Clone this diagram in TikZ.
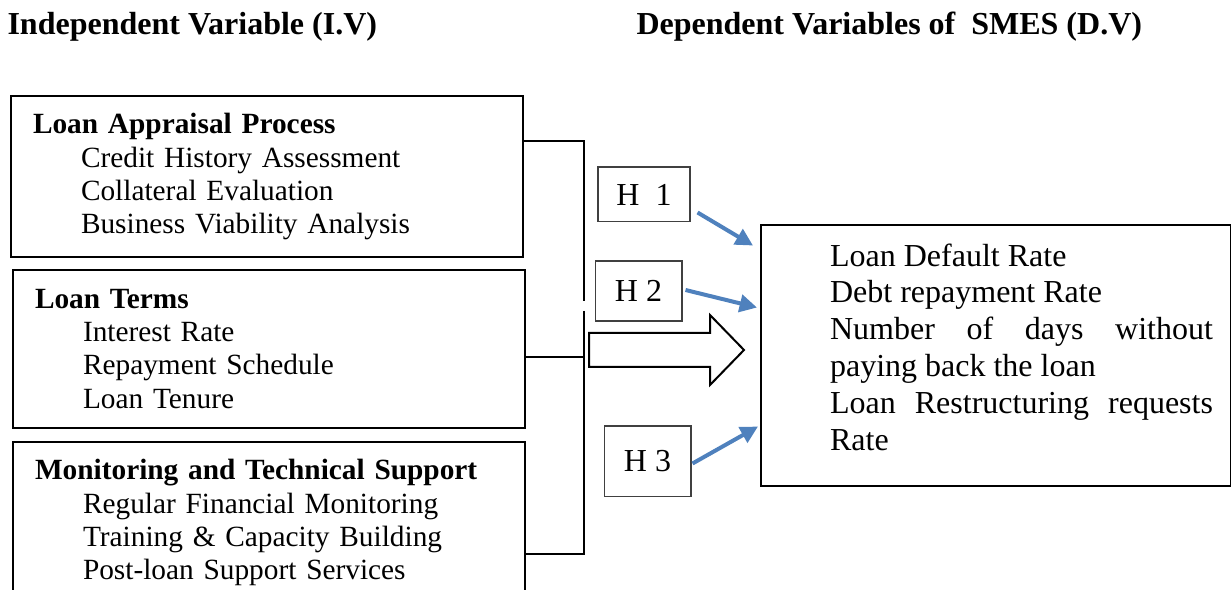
\documentclass[tikz,border=0pt]{standalone}
\usepackage{fontspec}
\setmainfont{Liberation Serif}
\usetikzlibrary{arrows.meta,positioning}
\definecolor{hblue}{RGB}{79,129,189}
\newcommand{\indline}{\hspace*{18pt}}

\begin{document}
\begin{tikzpicture}[
    x=0.375pt, y=-0.375pt,
    >=Latex,
    heading/.style={
      anchor=base west,
      inner sep=0pt,
      font=\fontsize{12}{13.8}\selectfont\bfseries
    },
    ivbox/.style={
      draw=black,
      line width=0.75pt,
      anchor=north west,
      align=left,
      text width=175.5pt,
      inner xsep=8.25pt,
      inner ysep=0pt,
      minimum height=60.4pt,
      font=\fontsize{11}{12.4}\selectfont
    },
    hypbox/.style={
      draw=black!75,
      line width=0.4pt,
      inner sep=0pt,
      font=\fontsize{12}{13.8}\selectfont
    },
    dvbox/.style={
      draw=black,
      line width=0.75pt,
      anchor=north west,
      inner sep=0pt,
      font=\fontsize{12}{13.8}\selectfont
    },
    link/.style={line width=0.75pt},
    hyp/.style={-{Triangle[length=6.5pt,width=6.5pt]}, line width=1.5pt, draw=hblue},
    bigarrow/.style={draw=black, line width=0.75pt, fill=white}
  ]
    \useasboundingbox (0,0) rectangle (1231,590);

    \node[heading] (ivtitle) at (7,35) {Independent Variable (I.V)};
    \node[heading] (dvtitle) at (636,35) {Dependent Variables of\ \ SMES (D.V)};

    \node[ivbox] (appraisal) at (10,95) {\textbf{Loan Appraisal Process}\\
      \indline Credit History Assessment\\
      \indline Collateral Evaluation\\
      \indline Business Viability Analysis};
    \node[ivbox, minimum height=59.25pt] (terms) at (12,269) {\textbf{Loan Terms}\\
      \indline Interest Rate\\
      \indline Repayment Schedule\\
      \indline Loan Tenure};
    \node[ivbox] (support) at (12,441) {\textbf{Monitoring and Technical Support}\\
      \indline Regular Financial Monitoring\\
      \indline Training \& Capacity Building\\
      \indline Post-loan Support Services};

    \node[hypbox, minimum width=34.5pt, minimum height=20.6pt] (h1) at (644,194.5) {H\ \ 1};
    \node[hypbox, minimum width=32.6pt, minimum height=22.5pt] (h2) at (638.5,291) {H 2};
    \node[hypbox, minimum width=32.6pt, minimum height=26.6pt] (h3) at (647.5,461.5) {H 3};

    \node[dvbox] (dv) at (760,224) {\hspace*{25.9pt}\parbox[c][97.9pt][t]{143.6pt}{%
      \vspace*{7pt}%
      Loan Default Rate\\
      Debt repayment Rate\\
      Number of days without\linebreak paying back the loan\\
      Loan Restructuring requests\linebreak Rate}\hspace*{6.75pt}};

    % bracket joining the three groups
    \coordinate (jtop) at (584,141);
    \coordinate (gapa) at (584,301);
    \coordinate (gapb) at (584,311);
    \coordinate (jmid) at (584,357);
    \coordinate (jbot) at (584,554);
    \draw[link] (appraisal.east |- jtop) -- (jtop) -- (gapa);
    \draw[link] (gapb) -- (jbot) -- (support.east |- jbot);
    \draw[link] (terms.east |- jmid) -- (jmid);

    % hollow arrow
    \draw[bigarrow] (589,333) -- (710,333) -- (710,315) -- (744,350)
      -- (710,385) -- (710,367) -- (589,367) -- cycle;

    \draw[hyp] ([shift={(7,-10)}]h1.south east) -- ([shift={(-7,-110)}]dv.west);
    \draw[hyp] ([shift={(3,-1)}]h2.east) -- ([shift={(-3,-48)}]dv.west);
    \draw[hyp] ([shift={(1,2)}]h3.east) -- ([shift={(-2,71)}]dv.west);
  \end{tikzpicture}
\end{document}
